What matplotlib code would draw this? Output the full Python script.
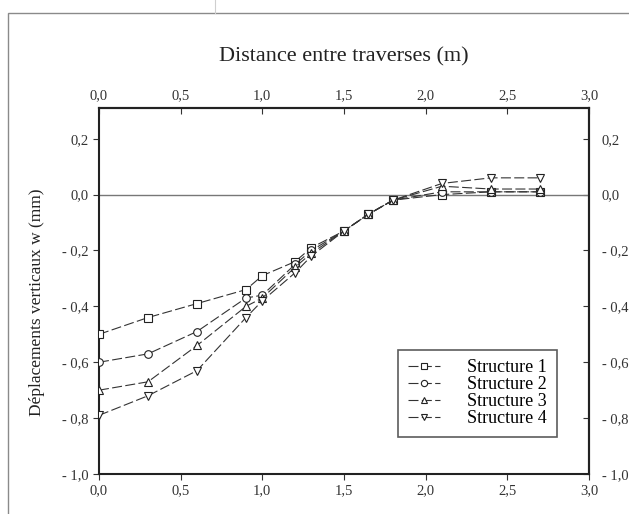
import matplotlib
matplotlib.use("Agg")
import matplotlib.pyplot as plt
from matplotlib.patches import Rectangle
from matplotlib.lines import Line2D

plt.rcParams['font.family'] = ['Liberation Serif', 'DejaVu Serif']

# Distance (m) of each measuring point
x = [0.0, 0.3, 0.6, 0.9, 1.0, 1.2, 1.3, 1.5, 1.65, 1.8, 2.1, 2.4, 2.7]

# vertical displacements w (mm)
s1 = [-0.50, -0.44, -0.39, -0.34, -0.29, -0.24, -0.19, -0.13, -0.07, -0.02, 0.00, 0.01, 0.01]
s2 = [-0.60, -0.57, -0.49, -0.37, -0.36, -0.25, -0.20, -0.13, -0.07, -0.02, 0.01, 0.01, 0.01]
s3 = [-0.70, -0.67, -0.54, -0.40, -0.37, -0.26, -0.21, -0.13, -0.07, -0.02, 0.03, 0.02, 0.02]
s4 = [-0.79, -0.72, -0.63, -0.44, -0.38, -0.28, -0.22, -0.13, -0.07, -0.02, 0.04, 0.06, 0.06]

series = [s1, s2, s3, s4]
labels = ["Structure 1", "Structure 2", "Structure 3", "Structure 4"]
markers = ["s", "o", "^", "v"]

xticks = [0.0, 0.5, 1.0, 1.5, 2.0, 2.5, 3.0]
yticks = [0.2, 0.0, -0.2, -0.4, -0.6, -0.8, -1.0]


def fr(v):
    s = f"{abs(v):.1f}".replace(".", ",")
    return s if v >= 0 else "- " + s


fig = plt.figure(figsize=(6.29, 5.14), dpi=100)
ax = fig.add_axes([99 / 629, 1 - 474 / 514, 490 / 629, 366 / 514])

# scanned page frame
fig.add_artist(Rectangle((8 / 629, -0.05), 1.1, 1 - 13 / 514 + 0.05,
                         transform=fig.transFigure, fill=False,
                         edgecolor="#8a8a8a", lw=1.0))
fig.add_artist(Line2D([215 / 629, 215 / 629], [1 - 13 / 514, 1.0],
                      transform=fig.transFigure, color="#cfcfcf", lw=0.8))

ax.axhline(0.0, color="#777777", lw=1.0, zorder=1)

for ys, lab, m in zip(series, labels, markers):
    ax.plot(x, ys, color="#333333", lw=0.8, ls=(0, (9, 3)),
            marker=m, ms=5.5, mfc="white", mec="#222222", mew=0.8,
            label=lab, zorder=3)

ax.set_xlim(0, 3.0)
ax.set_ylim(-1.0, 0.31)

ax.set_xticks(xticks)
ax.set_xticklabels([fr(v) for v in xticks])
ax.set_yticks(yticks)
ax.set_yticklabels([fr(v) for v in yticks])

ax.tick_params(axis="both", labelsize=10.5, colors="#333333", length=4, width=0.8)
ax.tick_params(axis="x", direction="out", top=False)
ax.tick_params(axis="y", direction="out", right=False)

# top axis with its own labels
axt = ax.secondary_xaxis("top")
axt.set_xticks(xticks)
axt.set_xticklabels([fr(v) for v in xticks])
axt.tick_params(direction="in", labelsize=10.5, colors="#333333", length=4, width=0.8, pad=4)
axt.set_xlabel("Distance entre traverses (m)", fontsize=16, labelpad=20, color="#222222")

axr = ax.secondary_yaxis("right")
axr.set_yticks(yticks)
axr.set_yticklabels([fr(v) for v in yticks])
axr.tick_params(direction="in", labelsize=10.5, colors="#333333", length=4, width=0.8, pad=9)

for sp in ax.spines.values():
    sp.set_linewidth(1.5)
    sp.set_color("#222222")
for a in (axt, axr):
    for sp in a.spines.values():
        sp.set_linewidth(1.5)
        sp.set_color("#222222")

ax.set_ylabel("Déplacements verticaux w (mm)", fontsize=12.5, color="#222222")
ax.yaxis.set_label_coords(-0.11, 0.47)

leg = ax.legend(loc="lower left", bbox_to_anchor=(0.61, 0.10),
                borderaxespad=0.0,
                fontsize=13, frameon=True, fancybox=False,
                handlelength=1.8, handletextpad=1.5, borderpad=0.55,
                labelspacing=0.0)
leg.get_frame().set_edgecolor("#333333")
leg.get_frame().set_linewidth(1.2)
for h in leg.legend_handles:
    h.set_markersize(4.5)

fig.savefig("out.png", dpi=100)
